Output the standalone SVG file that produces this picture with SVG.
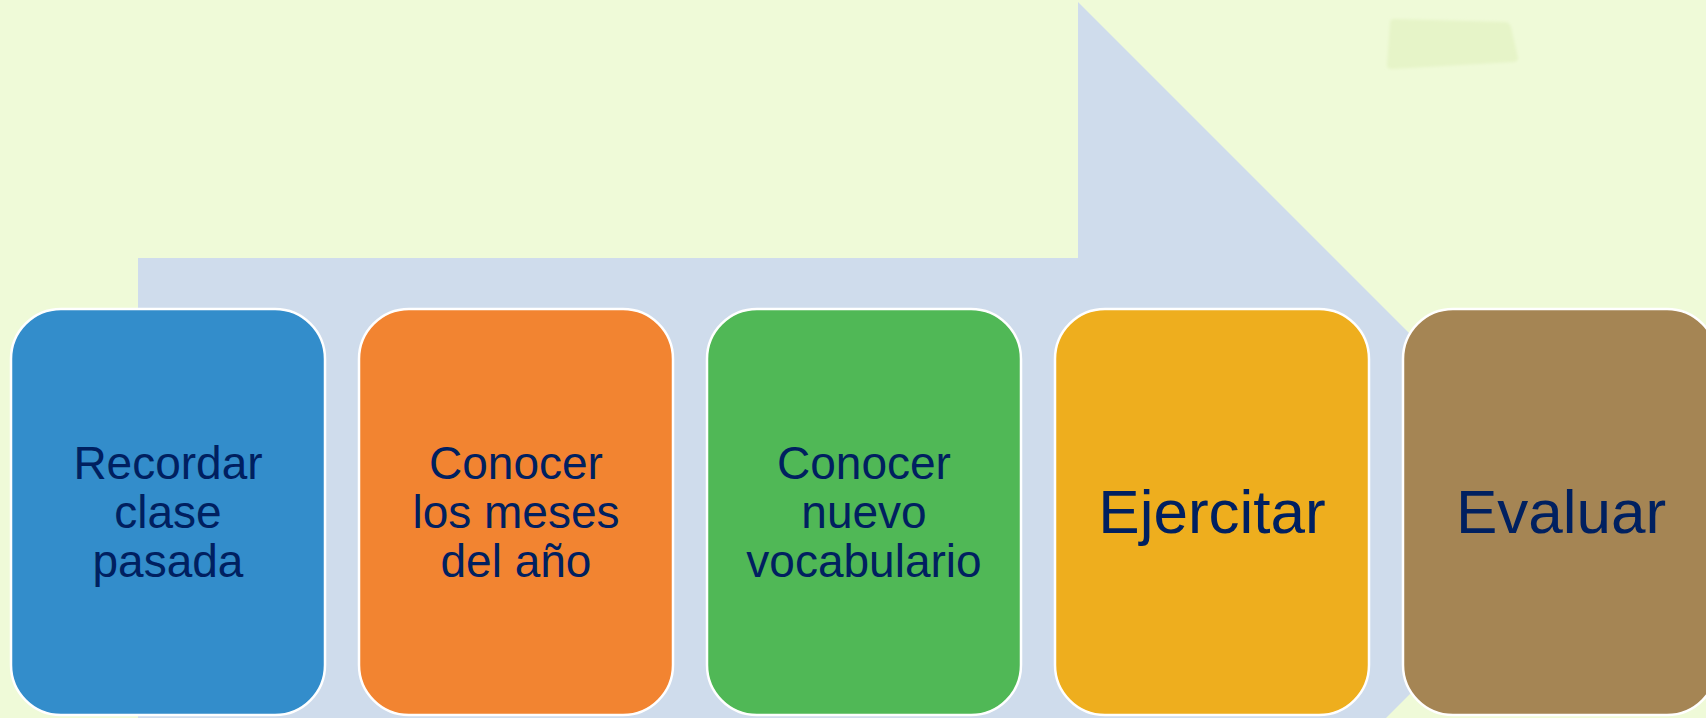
<svg xmlns="http://www.w3.org/2000/svg" width="1706" height="718" viewBox="0 0 1706 718">
<defs>
<filter id="soft" x="-10%" y="-20%" width="120%" height="140%"><feGaussianBlur stdDeviation="1.5"/></filter>
</defs>
<style>
.box{stroke:#ffffff;stroke-width:2.5}
.t{font-family:"Liberation Sans",Arial,sans-serif;fill:#002060;text-anchor:middle}
.s{font-size:46px}
.b{font-size:62px}
</style>
<rect x="0" y="0" width="1706" height="718" fill="#EFFAD8"/>
<path d="M1394,19 L1506,22 Q1510,23 1511,27 L1518,58 Q1518,61 1514,62 L1392,69 Q1387,69 1387,65 L1390,23 Q1390,19 1394,19 Z" fill="#E6F4C8" filter="url(#soft)"/>
<g id="arrow">
<path d="M138,258 L1078,258 L1078,2 L1590,514 L1078,1026 L1078,770 L138,770 Z" fill="#CFDCEC"/>
</g>
<g id="node1">
<rect class="box" x="11" y="309" width="314" height="406" rx="50" fill="#338DCB"/>
<text class="t s" x="168"><tspan x="168" y="479">Recordar</tspan><tspan x="168" y="528">clase</tspan><tspan x="168" y="577">pasada</tspan></text>
</g>
<g id="node2">
<rect class="box" x="359" y="309" width="314" height="406" rx="50" fill="#F28431"/>
<text class="t s" x="516"><tspan x="516" y="479">Conocer</tspan><tspan x="516" y="528">los meses</tspan><tspan x="516" y="577">del año</tspan></text>
</g>
<g id="node3">
<rect class="box" x="707" y="309" width="314" height="406" rx="50" fill="#50B856"/>
<text class="t s" x="864"><tspan x="864" y="479">Conocer</tspan><tspan x="864" y="528">nuevo</tspan><tspan x="864" y="577">vocabulario</tspan></text>
</g>
<g id="node4">
<rect class="box" x="1055" y="309" width="314" height="406" rx="50" fill="#EEAE1E"/>
<text class="t b" x="1212" y="533">Ejercitar</text>
</g>
<g id="node5">
<rect class="box" x="1403" y="309" width="314" height="406" rx="50" fill="#A58554"/>
<text class="t b" x="1561" y="533">Evaluar</text>
</g>
<g id="connectors"></g>
</svg>
